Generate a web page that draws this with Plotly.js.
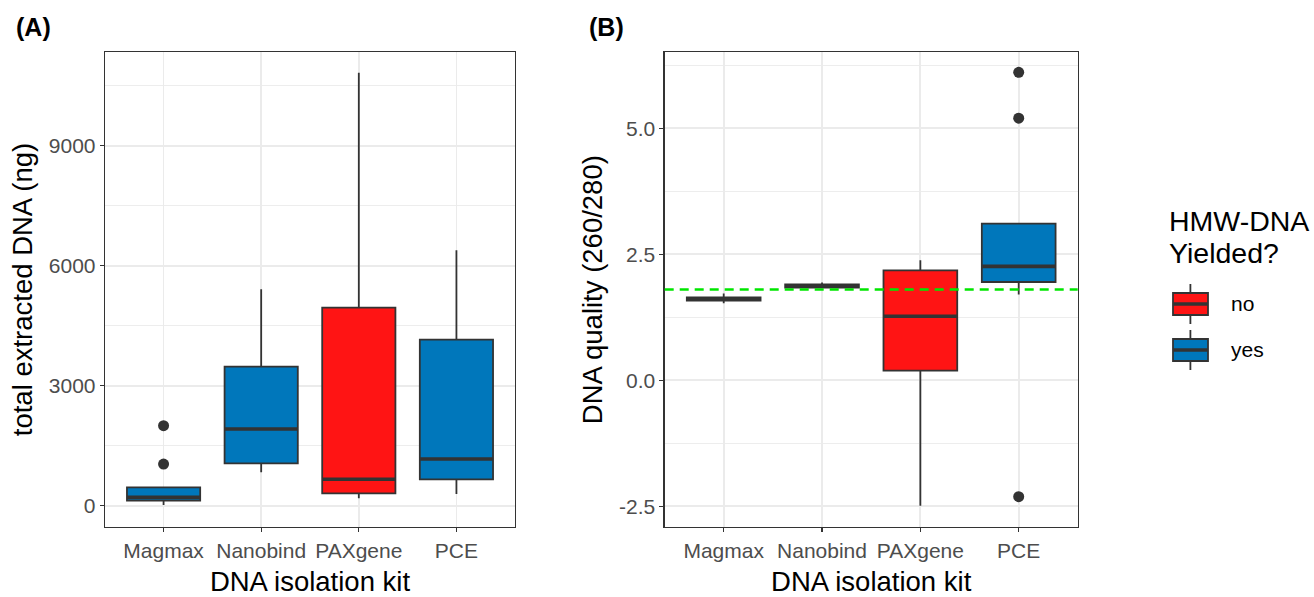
<!DOCTYPE html>
<html>
<head>
<meta charset="utf-8">
<script src="https://cdn.plot.ly/plotly-3.0.1.min.js"></script>
<style>html,body{margin:0;padding:0;background:#fff}#chart{width:1314px;height:597px}</style>
</head>
<body>
<div id="chart"></div>
<script>
// ---------- data ----------
const kits = ['Magmax', 'Nanobind', 'PAXgene', 'PCE'];
const yielded = ['yes', 'yes', 'no', 'yes'];

// Panel A: total extracted DNA (ng)
const yieldLower  = [20, 835, 185, 292];
const yieldQ1     = [130, 1058, 310, 660];
const yieldMedian = [210, 1917, 660, 1167];
const yieldQ3     = [460, 3475, 4950, 4150];
const yieldUpper  = [460, 5410, 10825, 6385];
const yieldOutlierKit = ['Magmax', 'Magmax'];
const yieldOutlierVal = [2000, 1040];

// Panel B: DNA quality (260/280)
const qualLower  = [1.53, 1.83, -2.49, 1.70];
const qualQ1     = [1.58, 1.84, 0.19, 1.95];
const qualMedian = [1.61, 1.87, 1.27, 2.26];
const qualQ3     = [1.645, 1.905, 2.18, 3.11];
const qualUpper  = [1.72, 1.94, 2.38, 3.11];
const qualOutlierKit = ['PCE', 'PCE', 'PCE'];
const qualOutlierVal = [6.11, 5.20, -2.31];
const qualThreshold = 1.8;

const yieldTickVals = [0, 3000, 6000, 9000];
const qualTickVals = [-2.5, 0, 2.5, 5];
const qualTickText = ['-2.5', '0.0', '2.5', '5.0'];

const groups = ['no', 'yes'];
const groupColors = {no: '#FF1414', yes: '#0077BB'};
const legendTitleLines = ['HMW-DNA', 'Yielded?'];

// ---------- styling ----------
const FONT = '"Liberation Sans", Arial, Helvetica, sans-serif';
const INK = '#333333';
const W = 1314, H = 597;
const px = v => v / W;
const py = v => 1 - v / H;

function boxTraces(xa, ya, lower, q1, med, q3, upper) {
  const out = [];
  groups.forEach(g => {
    const idx = kits.map((k, i) => i).filter(i => yielded[i] === g);
    out.push({
      type: 'box', xaxis: xa, yaxis: ya, name: g, showlegend: false,
      x: idx.map(i => kits[i]),
      q1: idx.map(i => q1[i]), median: idx.map(i => med[i]), q3: idx.map(i => q3[i]),
      lowerfence: idx.map(i => lower[i]), upperfence: idx.map(i => upper[i]),
      width: 0.75, whiskerwidth: 0, boxpoints: false,
      fillcolor: groupColors[g], line: {color: INK, width: 1.8},
      hoverinfo: 'skip'
    });
  });
  // thicker median lines (ggplot fatten)
  out.push({
    type: 'box', xaxis: xa, yaxis: ya, showlegend: false,
    x: kits, q1: med, median: med, q3: med, lowerfence: med, upperfence: med,
    width: 0.75, whiskerwidth: 0, boxpoints: false,
    fillcolor: 'rgba(0,0,0,0)', line: {color: INK, width: 3.6}, hoverinfo: 'skip'
  });
  return out;
}

const traces = [
  ...boxTraces('x', 'y', yieldLower, yieldQ1, yieldMedian, yieldQ3, yieldUpper),
  {type: 'scatter', mode: 'markers', xaxis: 'x', yaxis: 'y', showlegend: false,
   x: yieldOutlierKit, y: yieldOutlierVal, marker: {color: INK, size: 11}, hoverinfo: 'skip'},
  ...boxTraces('x2', 'y2', qualLower, qualQ1, qualMedian, qualQ3, qualUpper),
  {type: 'scatter', mode: 'markers', xaxis: 'x2', yaxis: 'y2', showlegend: false,
   x: qualOutlierKit, y: qualOutlierVal, marker: {color: INK, size: 11}, hoverinfo: 'skip'}
];

const TITLE_FONT = {family: FONT, size: 27.5, color: '#000'};
const axisBase = {
  showline: true, mirror: true, linecolor: INK, linewidth: 1.3,
  ticks: 'outside', ticklen: 4, tickwidth: 1.3, tickcolor: INK,
  showgrid: true, gridcolor: '#EBEBEB', gridwidth: 1.8, zeroline: false,
  tickfont: {family: FONT, size: 21, color: '#4D4D4D'}, fixedrange: true
};
const xBase = Object.assign({}, axisBase, {
  type: 'category', categoryorder: 'array', categoryarray: kits, range: [-0.6, 3.6],
  title: {text: 'DNA isolation kit', font: TITLE_FONT, standoff: 12}
});

const layout = {
  width: W, height: H,
  margin: {l: 0, r: 0, t: 0, b: 0},
  paper_bgcolor: '#fff', plot_bgcolor: '#fff',
  font: {family: FONT},
  boxmode: 'overlay', showlegend: false,
  xaxis: Object.assign({}, xBase, {domain: [px(105), px(515)], anchor: 'y'}),
  yaxis: Object.assign({}, axisBase, {
    domain: [py(527), py(52)], anchor: 'x', range: [-532, 11342],
    tickmode: 'array', tickvals: yieldTickVals,
    minor: {tickmode: 'linear', tick0: 1500, dtick: 3000, showgrid: true, gridcolor: '#EBEBEB', gridwidth: 0.9, ticks: ''},
    title: {text: 'total extracted DNA (ng)', font: TITLE_FONT, standoff: 8}
  }),
  xaxis2: Object.assign({}, xBase, {domain: [px(664.7), px(1077.7)], anchor: 'y2'}),
  yaxis2: Object.assign({}, axisBase, {
    domain: [py(527), py(52.3)], anchor: 'x2', range: [-2.911, 6.508],
    tickmode: 'array', tickvals: qualTickVals, ticktext: qualTickText,
    minor: {tickmode: 'linear', tick0: -1.25, dtick: 2.5, showgrid: true, gridcolor: '#EBEBEB', gridwidth: 0.9, ticks: ''},
    title: {text: 'DNA quality (260/280)', font: TITLE_FONT, standoff: 8}
  }),
  shapes: [
    {type: 'line', xref: 'x2 domain', x0: 0, x1: 1, yref: 'y2', y0: qualThreshold, y1: qualThreshold,
     line: {color: '#00E600', width: 2.4, dash: '9px,6px'}, layer: 'above'}
  ],
  annotations: [
    {text: '<b>(A)</b>', xref: 'paper', yref: 'paper', x: px(14), y: py(27), xanchor: 'left', yanchor: 'middle',
     showarrow: false, font: {family: FONT, size: 25, color: '#000'}},
    {text: '<b>(B)</b>', xref: 'paper', yref: 'paper', x: px(587), y: py(27), xanchor: 'left', yanchor: 'middle',
     showarrow: false, font: {family: FONT, size: 25, color: '#000'}}
  ]
};

legendTitleLines.forEach((t, i) => {
  layout.annotations.push({text: t, xref: 'paper', yref: 'paper', x: px(1167), y: py(221 + i * 32), xanchor: 'left', yanchor: 'middle',
    showarrow: false, font: {family: FONT, size: 28.5, color: '#000'}});
});

// custom legend keys (ggplot-style boxplot glyphs)
groups.forEach((g, i) => {
  const cy = 304 + i * 46;
  layout.shapes.push(
    {type: 'line', xref: 'paper', yref: 'paper', x0: px(1190.4), x1: px(1190.4), y0: py(cy - 20), y1: py(cy + 20), line: {color: INK, width: 1.8}},
    {type: 'rect', xref: 'paper', yref: 'paper', x0: px(1173), x1: px(1208), y0: py(cy - 11), y1: py(cy + 11), fillcolor: groupColors[g], line: {color: INK, width: 1.8}},
    {type: 'line', xref: 'paper', yref: 'paper', x0: px(1173), x1: px(1208), y0: py(cy), y1: py(cy), line: {color: INK, width: 3.4}}
  );
  layout.annotations.push({text: g, xref: 'paper', yref: 'paper', x: px(1229), y: py(cy - 1), xanchor: 'left', yanchor: 'middle',
    showarrow: false, font: {family: FONT, size: 21, color: '#000'}});
});

Plotly.newPlot('chart', traces, layout, {staticPlot: true, displayModeBar: false});
</script>
</body>
</html>
